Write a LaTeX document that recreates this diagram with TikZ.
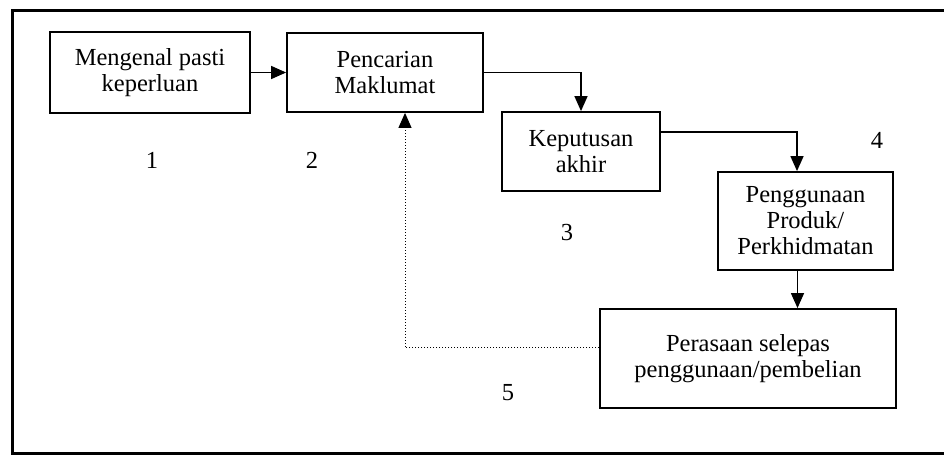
\documentclass[tikz,border=0pt]{standalone}
\usepackage{fontspec}
\setmainfont{Liberation Serif}
\usetikzlibrary{arrows.meta,calc}
\begin{document}
\begin{tikzpicture}[x=1pt,y=-1pt,
  box/.style={draw,line width=1.8pt,inner sep=0pt,align=center,font=\fontsize{24.5}{26}\selectfont},
  num/.style={font=\fontsize{24.5}{26}\selectfont,inner sep=0pt},
  conn/.style={line width=1.4pt,-{Triangle[length=15pt,width=13pt]}},
  fb/.style={line width=1pt,dotted,-{Triangle[length=15pt,width=13pt]}}]
\useasboundingbox (0,0) rectangle (944,455);
\draw[line width=3pt] (944,10) -- (12,10) -- (12,453) -- (944,453);
\node[box,minimum width=200pt,minimum height=81pt] (b1) at (150,72.5) {Mengenal pasti\\keperluan};
\node[box,minimum width=196pt,minimum height=79pt] (b2) at (385,72.5) {Pencarian\\Maklumat};
\node[box,minimum width=158pt,minimum height=79pt] (b3) at (581,151.5) {Keputusan\\akhir};
\node[box,minimum width=175pt,minimum height=98pt] (b4) at (805.5,221) {Penggunaan\\Produk/\\Perkhidmatan};
\node[box,minimum width=296pt,minimum height=99pt] (b5) at (748,358.5) {Perasaan selepas\\penggunaan/pembelian};
\node[num] (n1) at (152,160) {1};
\node[num] (n2) at (312,160) {2};
\node[num] (n3) at (567,233) {3};
\node[num] (n4) at (877,140) {4};
\node[num] (n5) at (508,393) {5};
\draw[conn] (b1.east) -- (b2.west);
\draw[conn] (b2.east) -| (b3.north);
\draw[conn] ([yshift=19.5pt]b3.east) -| ([xshift=-8.5pt]b4.north);
\draw[conn] ([xshift=-8pt]b4.south) -- ([xshift=-8pt]b4.south |- b5.north);
\draw[fb] ([yshift=11pt]b5.west) -| ([xshift=20pt]b2.south);
\end{tikzpicture}
\end{document}
